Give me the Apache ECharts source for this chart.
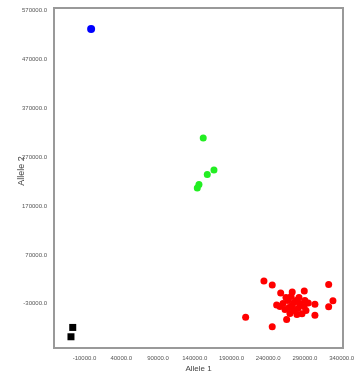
<!DOCTYPE html>
<html><head><meta charset="utf-8">
<script src="https://cdn.jsdelivr.net/npm/echarts@6/dist/echarts.min.js"></script>
<style>html,body{margin:0;padding:0;background:#fff}#c{width:354px;height:372px}</style>
</head><body><div id="c"></div>
<script>
const xTicks = [-10000, 40000, 90000, 140000, 190000, 240000, 290000, 340000];
const yTicks = [-30000, 70000, 170000, 270000, 370000, 470000, 570000];
const bluePts = [[-1000, 532500]];
const blackPts = [[-26000, -78500], [-28400, -97600]];
const greenPts = [[151600, 309600], [166200, 244000], [157100, 234500], [145800, 214000], [143500, 207100]];
const redPts = [
  [234200, 16400], [245500, 8200], [257000, -8200], [272700, -6200], [289100, -4100],
  [322300, 9600], [328100, -23800], [322300, -36100], [303600, -30800], [303600, -53300],
  [294500, -28700], [251500, -32800], [209300, -57400], [245500, -77100], [265100, -62100],
  [286000, -50500], [260100, -29300], [266900, -23200], [272300, -33400], [277800, -23200],
  [283200, -29300], [280500, -39600], [275100, -43700], [268300, -37500], [262900, -41600],
  [288700, -35500], [291400, -43700], [281900, -17000], [271100, -15000], [256000, -35500],
  [279100, -51900], [269600, -49800], [290000, -23200], [264200, -17000], [275100, -27200]
];
const chart = echarts.init(document.getElementById('c'), null, {renderer: 'canvas'});
const lbl = {fontSize: 6, color: '#555', fontFamily: 'Liberation Sans', formatter: v => Number(v).toFixed(1)};
chart.setOption({
  animation: false,
  grid: {left: 54, right: 11, top: 8, bottom: 24, show: true, borderColor: '#999', borderWidth: 2, containLabel: false, outerBoundsMode: 'none'},
  xAxis: {
    type: 'value', min: -51500, max: 341800,
    name: 'Allele 1', nameLocation: 'middle', nameGap: 17, nameMoveOverlap: false,
    nameTextStyle: {fontSize: 8, color: '#444', fontFamily: 'Liberation Sans'},
    axisLine: {show: false}, axisTick: {show: false}, splitLine: {show: false},
    axisLabel: Object.assign({margin: 7, customValues: xTicks}, lbl)
  },
  yAxis: {
    type: 'value', min: -120600, max: 575500,
    name: 'Allele 2', nameLocation: 'middle', nameGap: 28, nameMoveOverlap: false,
    nameTextStyle: {fontSize: 9, color: '#444', fontFamily: 'Liberation Sans', padding: [0, 0, 0, 14]},
    axisLine: {show: false}, axisTick: {show: false}, splitLine: {show: false},
    axisLabel: Object.assign({margin: 7, customValues: yTicks}, lbl)
  },
  series: [
    {type: 'scatter', data: redPts, symbol: 'circle', symbolSize: 7, itemStyle: {color: '#ff0000', opacity: 1}},
    {type: 'scatter', data: greenPts, symbol: 'circle', symbolSize: 7, itemStyle: {color: '#22ee22', opacity: 1}},
    {type: 'scatter', data: bluePts, symbol: 'circle', symbolSize: 8, itemStyle: {color: '#0000ff', opacity: 1}},
    {type: 'scatter', data: blackPts, symbol: 'rect', symbolSize: 7, itemStyle: {color: '#000000', opacity: 1}}
  ]
});
</script></body></html>
